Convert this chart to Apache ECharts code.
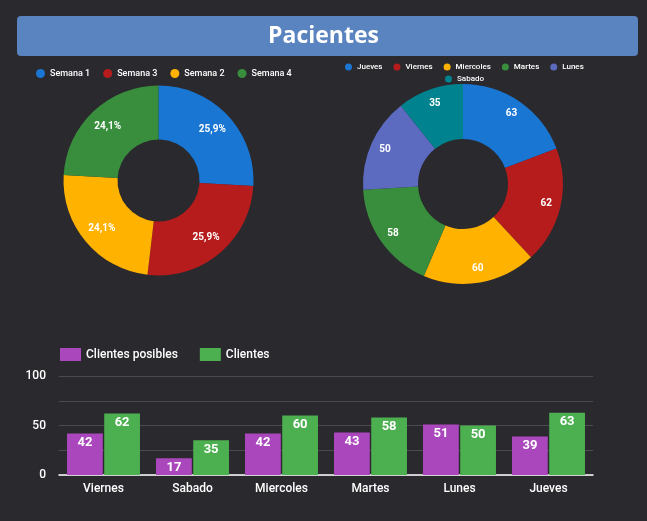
<!DOCTYPE html>
<html lang="es">
<head>
    <meta charset="UTF-8">
    <title>Pacientes</title>
    <script src="https://cdn.jsdelivr.net/npm/echarts@6/dist/echarts.min.js"></script>
    <style>
        html, body { margin: 0; padding: 0; background: #2a292e; }
        #main { width: 647px; height: 521px; }
    </style>
</head>
<body>
<div id="main"></div>
<script>
    // datos
    var semanas = ['Semana 1', 'Semana 3', 'Semana 2', 'Semana 4'];
    var semanaValores = [14, 14, 13, 13];

    var dias = ['Jueves', 'Viernes', 'Miercoles', 'Martes', 'Lunes', 'Sabado'];
    var diaValores = [63, 62, 60, 58, 50, 35];

    var barDias = ['Viernes', 'Sabado', 'Miercoles', 'Martes', 'Lunes', 'Jueves'];
    var clientesPosibles = [42, 17, 42, 43, 51, 39];
    var clientes = [62, 35, 60, 58, 50, 63];

    var semanaColores = ['#1976d2', '#b71c1c', '#ffb300', '#388e3c'];
    var diaColores = ['#1976d2', '#b71c1c', '#ffb300', '#388e3c', '#5c6bc0', '#00838f'];

    var font = 'Roboto';
    var pie1Center = [158.5, 180.5];
    var pie2Center = [463, 184];

    // empuja las etiquetas un poco hacia fuera, como en el original
    function pushOut(center, shift) {
        return function (p) {
            var r = p.labelRect;
            var dx = r.x + r.width / 2 - center[0];
            var dy = r.y + r.height / 2 - center[1];
            var len = Math.sqrt(dx * dx + dy * dy) || 1;
            return {dx: dx / len * shift, dy: dy / len * shift};
        };
    }

    var chart = echarts.init(document.getElementById('main'));

    chart.setOption({
        backgroundColor: '#2a292e',
        animation: false,
        textStyle: {fontFamily: font},
        graphic: [{
            type: 'rect',
            shape: {x: 17, y: 16, width: 621, height: 40, r: 4},
            style: {fill: '#5a84bf'}
        }],
        title: {
            text: 'Pacientes',
            left: 'center',
            top: 20,
            textStyle: {color: '#ffffff', fontSize: 23, fontWeight: 'bold', fontFamily: 'Open Sans'}
        },
        legend: [{
            data: semanas,
            left: 31,
            top: 64,
            icon: 'circle',
            itemWidth: 9,
            itemHeight: 9,
            itemGap: 13,
            textStyle: {color: '#ffffff', fontSize: 9, fontWeight: 500}
        }, {
            data: dias.slice(0, 5),
            left: 340,
            top: 58,
            icon: 'circle',
            itemWidth: 7,
            itemHeight: 7,
            itemGap: 11,
            textStyle: {color: '#ffffff', fontSize: 8, fontWeight: 500}
        }, {
            data: dias.slice(5),
            left: 440,
            top: 70,
            icon: 'circle',
            itemWidth: 7,
            itemHeight: 7,
            textStyle: {color: '#ffffff', fontSize: 8, fontWeight: 500}
        }, {
            data: ['Clientes posibles', 'Clientes'],
            left: 55,
            top: 343,
            icon: 'rect',
            itemWidth: 21,
            itemHeight: 13,
            itemGap: 22,
            textStyle: {color: '#ffffff', fontSize: 12, fontWeight: 500}
        }],
        grid: {left: 59, right: 54, top: 376, bottom: 46},
        xAxis: {
            type: 'category',
            data: barDias,
            axisLine: {lineStyle: {color: '#ffffff', width: 1.5}},
            axisTick: {show: false},
            axisLabel: {color: '#ffffff', fontSize: 12, fontWeight: 500, margin: 8}
        },
        yAxis: {
            type: 'value',
            min: 0,
            max: 100,
            interval: 25,
            axisLine: {show: false},
            axisTick: {show: false},
            splitLine: {lineStyle: {color: '#4a4a50', width: 1}},
            axisLabel: {
                color: '#ffffff',
                fontSize: 12,
                fontWeight: 500,
                margin: 13,
                formatter: function (v) { return v % 50 === 0 ? v : ''; }
            }
        },
        series: [{
            type: 'pie',
            name: 'Semanas',
            center: pie1Center,
            radius: [41, 95],
            startAngle: 90,
            label: {
                position: 'inside',
                color: '#ffffff',
                fontSize: 10,
                fontWeight: 'bold',
                formatter: function (p) { return p.percent.toFixed(1).replace('.', ',') + '%'; }
            },
            labelLayout: pushOut(pie1Center, 3),
            labelLine: {show: false},
            data: semanas.map(function (n, i) {
                return {name: n, value: semanaValores[i], itemStyle: {color: semanaColores[i]}};
            })
        }, {
            type: 'pie',
            name: 'Dias',
            center: pie2Center,
            radius: [45, 100],
            startAngle: 90,
            label: {
                position: 'inside',
                color: '#ffffff',
                fontSize: 10,
                fontWeight: 'bold',
                formatter: '{c}'
            },
            labelLayout: pushOut(pie2Center, 10),
            labelLine: {show: false},
            data: dias.map(function (n, i) {
                return {name: n, value: diaValores[i], itemStyle: {color: diaColores[i]}};
            })
        }, {
            type: 'bar',
            name: 'Clientes posibles',
            data: clientesPosibles,
            itemStyle: {color: '#ab47bc'},
            barGap: '4%',
            barCategoryGap: '18%',
            label: {show: true, position: 'insideTop', color: '#ffffff', fontSize: 13, fontWeight: 'bold', distance: 3}
        }, {
            type: 'bar',
            name: 'Clientes',
            data: clientes,
            itemStyle: {color: '#4caf50'},
            label: {show: true, position: 'insideTop', color: '#ffffff', fontSize: 13, fontWeight: 'bold', distance: 3}
        }]
    });
</script>
</body>
</html>
